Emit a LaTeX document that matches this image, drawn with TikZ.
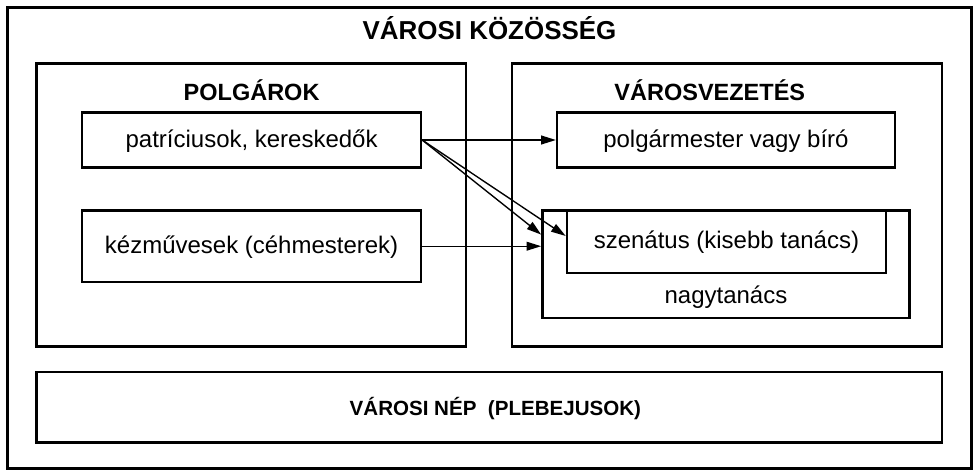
\documentclass[tikz,border=0pt]{standalone}
\usepackage{fontspec}
\setmainfont{Liberation Sans}
\usetikzlibrary{arrows.meta,calc}
\tikzset{
  frame/.style={draw=black, line width=2.6pt, inner sep=0pt},
  stepbox/.style={draw=black, line width=2.4pt, inner sep=0pt, fill=white},
  titletext/.style={font=\bfseries\fontsize{26.5}{30}\selectfont, anchor=base, inner sep=0pt},
  headtext/.style={font=\bfseries\fontsize{24}{28}\selectfont, anchor=base, inner sep=0pt},
  neptext/.style={font=\bfseries\fontsize{21}{25}\selectfont, anchor=base, inner sep=0pt},
  bodytext/.style={font=\fontsize{24.5}{28}\selectfont, anchor=base, inner sep=0pt},
  conn/.style={line width=1.4pt, -{Triangle[length=15pt,width=9pt]}},
}
\begin{document}
\begin{tikzpicture}[x=1pt,y=-1pt]
\useasboundingbox (0,0) rectangle (1000,486.2);
% outer frame
\node[frame, minimum width=985pt, minimum height=471pt] (outer) at (500,243.1) {};
\node[titletext] (title) at (500,40) {VÁROSI KÖZÖSSÉG};

% two main boxes
\node[frame, minimum width=438.5pt, minimum height=289pt] (polg) at (256.75,209.5) {};
\node[frame, minimum width=439pt, minimum height=289pt] (vez) at (742.5,209.5) {};
\node[headtext] (polgh) at (257,103) {POLGÁROK};
\node[headtext] (vezh) at (725,103) {VÁROSVEZETÉS};

% inner boxes
\node[stepbox, minimum width=346pt, minimum height=56pt] (pat) at (257,143) {};
\node[bodytext] (patt) at (257,151) {patríciusok, kereskedők};
\node[stepbox, minimum width=346pt, minimum height=73pt] (kez) at (257,251.5) {};
\node[bodytext] (kezt) at (257,259) {kézművesek (céhmesterek)};
\node[stepbox, minimum width=345pt, minimum height=56pt] (pm) at (741.5,143) {};
\node[bodytext] (pmt) at (741.5,151) {polgármester vagy bíró};
\node[stepbox, minimum width=375pt, minimum height=110pt] (nagy) at (741.5,270) {};
\node[stepbox, minimum width=326pt, minimum height=64pt] (szen) at (742,247) {};
\node[bodytext] (szent) at (742,254) {szenátus (kisebb tanács)};
\node[bodytext] (nagyt) at (741.5,310) {nagytanács};

% bottom box
\node[frame, minimum width=924.5pt, minimum height=72pt] (nep) at (499.75,416) {};
\node[neptext] (nept) at (506,424) {VÁROSI NÉP\ \ (PLEBEJUSOK)};

% connectors
\draw[conn] (pat.east) -- (pm.west);
\draw[conn] (pat.east) -- ($(nagy.north west)!0.23!(nagy.south west)$);
\draw[conn] (pat.east) -- ($(szen.north west)!0.41!(szen.south west)$);
\draw[conn] (kez.east) -- (kez.east -| nagy.west);
\end{tikzpicture}
\end{document}
